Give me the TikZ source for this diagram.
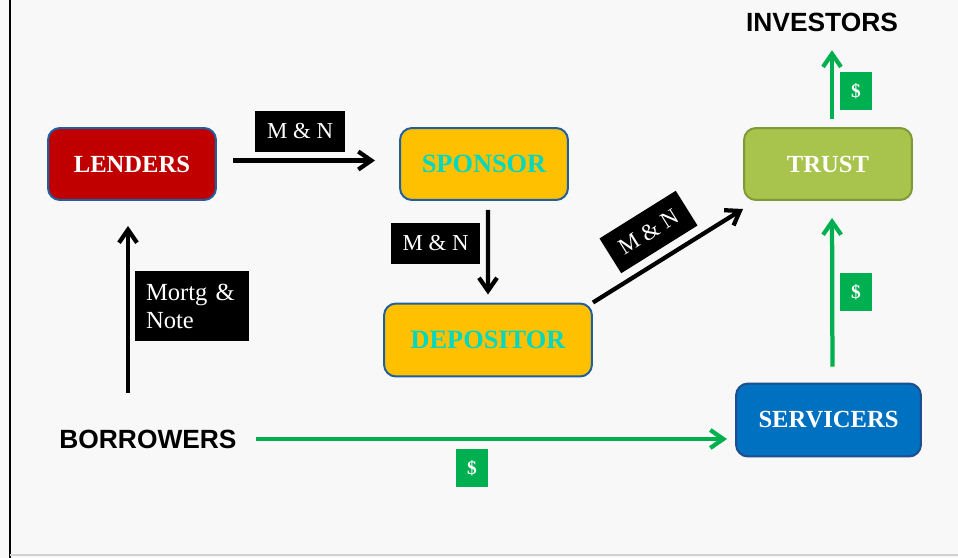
\documentclass[tikz,border=0pt]{standalone}
\usepackage{fontspec}
\setmainfont{Liberation Serif}
\newfontfamily\headfont{Liberation Sans}
\usetikzlibrary{arrows.meta}

\definecolor{paper}{HTML}{F8F8F8}
\definecolor{lendred}{HTML}{C00000}
\definecolor{gold}{HTML}{FFC000}
\definecolor{trustgreen}{HTML}{A8C44C}
\definecolor{trustrim}{HTML}{7E9A38}
\definecolor{servblue}{HTML}{0070C0}
\definecolor{servrim}{HTML}{1F4E8C}
\definecolor{rimblue}{HTML}{1F5FA0}
\definecolor{cashgreen}{HTML}{00B050}
\definecolor{teal}{HTML}{00D8C0}

\tikzset{
  box/.style={rounded corners=0.24cm, minimum width=3.36cm, minimum height=1.44cm,
    line width=0.04cm, text=white, font=\bfseries\fontsize{14}{16}\selectfont},
  goldbox/.style={box, fill=gold, draw=rimblue, text=teal,
    font=\bfseries\fontsize{15}{17}\selectfont},
  party/.style={inner sep=0pt, font=\headfont\bfseries\fontsize{15}{17}\selectfont},
  tag/.style={fill=black, text=white, inner sep=0pt, minimum width=1.8cm,
    minimum height=0.82cm, font=\fontsize{13}{15}\selectfont},
  cash/.style={fill=cashgreen, text=white, inner sep=0pt, minimum width=0.64cm,
    minimum height=0.76cm, font=\bfseries\fontsize{11}{13}\selectfont},
  blk/.style={line width=0.085cm, black},
  grn/.style={line width=0.085cm, cashgreen},
}

\begin{document}
\begin{tikzpicture}[x=0.02cm,y=-0.02cm,>={Straight Barb[length=0.26cm,width=0.36cm]}]
  \fill[paper] (0,0) rectangle (958,558);
  \useasboundingbox (0,0) rectangle (958,558);
  \draw[line width=0.05cm] (10,0) -- (10,558);
  \draw[gray!35, line width=0.03cm] (10,555) -- (958,555);

  % firms
  \node[box,fill=lendred,draw=rimblue] at (132,164) (lenders) {LENDERS};
  \node[goldbox] at (484,164) (sponsor) {SPONSOR};
  \node[goldbox,minimum width=4.16cm,minimum height=1.46cm] at (488,340) (depositor) {DEPOSITOR};
  \node[box,fill=trustgreen,draw=trustrim] at (828,164) (trust) {TRUST};
  \node[box,fill=servblue,draw=servrim,minimum width=3.7cm,minimum height=1.46cm] at (828.5,420) (servicers) {SERVICERS};
  \node[party] at (822,22) (investors) {INVESTORS};
  \node[party] at (148,439) (borrowers) {BORROWERS};

  % labels
  \node[tag] at (300,131.5) (mn1) {M \& N};
  \node[tag] at (435.5,243.5) (mn2) {M \& N};
  \node[tag,rotate=32] at (648.5,232) (mn3) {M \& N};
  \node[tag,minimum width=2.28cm,minimum height=1.4cm,inner xsep=0.22cm,text width=1.84cm,
    align=left,font=\fontsize{14}{16}\selectfont] at (192,306) (mortg) {Mortg \&\\Note};
  \node[cash] at (856,91) (cash1) {\$};
  \node[cash] at (856,292) (cash2) {\$};
  \node[cash] at (472,468) (cash3) {\$};

  % flows of paper
  \coordinate (lendfoot) at ([xshift=-0.08cm]lenders.south);
  \draw[blk,->,shorten <=0.32cm,shorten >=0.48cm] ([yshift=0.07cm]lenders.east) -- ([yshift=0.07cm]sponsor.west);
  \draw[blk,->,shorten <=0.18cm,shorten >=0.16cm] ([xshift=0.08cm]sponsor.south) -- (depositor.north);
  \draw[blk,->] (depositor.north east) -- ([yshift=-0.16cm]trust.south west);
  \draw[blk,->,shorten <=0.72cm,shorten >=0.5cm] (lendfoot |- borrowers.north) -- (lendfoot);

  % flows of cash
  \coordinate (trusttop) at ([xshift=0.08cm]trust.north);
  \draw[grn,->,shorten <=0.38cm,shorten >=0.16cm] (borrowers.east) -- (borrowers.east -| servicers.west);
  \draw[grn,->,shorten <=0.32cm,shorten >=0.34cm] ([xshift=0.08cm]servicers.north) -- ([xshift=0.08cm]trust.south);
  \draw[grn,->,shorten <=0.16cm,shorten >=0.37cm] (trusttop) -- (trusttop |- investors.south);
\end{tikzpicture}
\end{document}
